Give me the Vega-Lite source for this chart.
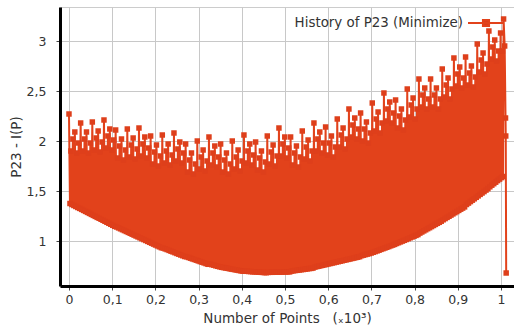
{
"$schema": "https://vega.github.io/schema/vega-lite/v6.json",
"width": 454, "height": 279,
"autosize": {"type": "none"},
"padding": {"left": 60, "top": 7, "right": 0, "bottom": 42},
"background": "white",
"config": {
 "font": "DejaVu Sans",
 "view": {"stroke": "#cccccc"},
 "axis": {"domainColor": "#000000", "domainWidth": 3, "gridColor": "#c8c8c8", "gridWidth": 1, "tickColor": "#444444", "tickSize": 4, "labelFontSize": 12.5, "labelColor": "#333333", "titleFontSize": 13.5, "titleColor": "#333333", "titleFontWeight": "normal", "labelFont": "DejaVu Sans", "titleFont": "DejaVu Sans"}
},
"data": {"values": [
{"x":0,"y":2.27},{"x":0.00225,"y":1.375},{"x":0.0045,"y":1.90},{"x":0.00675,"y":1.365},{"x":0.009,"y":2.02},{"x":0.01125,"y":1.355},{"x":0.0135,"y":2.09},{"x":0.01575,"y":1.345},{"x":0.018,"y":1.88},{"x":0.02025,"y":1.335},{"x":0.0225,"y":1.98},{"x":0.02475,"y":1.326},
{"x":0.027,"y":2.18},{"x":0.02925,"y":1.316},{"x":0.0315,"y":1.90},{"x":0.03375,"y":1.306},{"x":0.036,"y":2.02},{"x":0.03825,"y":1.296},{"x":0.0405,"y":2.09},{"x":0.04275,"y":1.286},{"x":0.045,"y":1.88},{"x":0.04725,"y":1.276},{"x":0.0495,"y":1.98},{"x":0.05175,"y":1.266},
{"x":0.054,"y":2.19},{"x":0.05625,"y":1.256},{"x":0.0585,"y":1.91},{"x":0.06075,"y":1.246},{"x":0.063,"y":2.03},{"x":0.06525,"y":1.236},{"x":0.0675,"y":2.10},{"x":0.06975,"y":1.227},{"x":0.072,"y":1.89},{"x":0.07425,"y":1.217},{"x":0.0765,"y":1.99},{"x":0.07875,"y":1.207},
{"x":0.081,"y":2.21},{"x":0.08325,"y":1.197},{"x":0.0855,"y":1.93},{"x":0.08775,"y":1.187},{"x":0.09,"y":2.05},{"x":0.09225,"y":1.177},{"x":0.0945,"y":2.12},{"x":0.09675,"y":1.167},{"x":0.099,"y":1.91},{"x":0.10125,"y":1.157},{"x":0.1035,"y":2.01},{"x":0.10575,"y":1.147},
{"x":0.108,"y":2.11},{"x":0.11025,"y":1.140},{"x":0.1125,"y":1.83},{"x":0.11475,"y":1.131},{"x":0.117,"y":1.95},{"x":0.11925,"y":1.122},{"x":0.1215,"y":2.02},{"x":0.12375,"y":1.113},{"x":0.126,"y":1.81},{"x":0.12825,"y":1.104},{"x":0.1305,"y":1.91},{"x":0.13275,"y":1.095},
{"x":0.135,"y":2.12},{"x":0.13725,"y":1.086},{"x":0.1395,"y":1.84},{"x":0.14175,"y":1.077},{"x":0.144,"y":1.96},{"x":0.14625,"y":1.068},{"x":0.1485,"y":2.03},{"x":0.15075,"y":1.059},{"x":0.153,"y":1.82},{"x":0.15525,"y":1.050},{"x":0.1575,"y":1.92},{"x":0.15975,"y":1.041},
{"x":0.162,"y":2.13},{"x":0.16425,"y":1.032},{"x":0.1665,"y":1.85},{"x":0.16875,"y":1.023},{"x":0.171,"y":1.97},{"x":0.17325,"y":1.014},{"x":0.1755,"y":2.04},{"x":0.17775,"y":1.005},{"x":0.18,"y":1.83},{"x":0.18225,"y":0.996},{"x":0.1845,"y":1.93},{"x":0.18675,"y":0.987},
{"x":0.189,"y":2.05},{"x":0.19125,"y":0.978},{"x":0.1935,"y":1.77},{"x":0.19575,"y":0.969},{"x":0.198,"y":1.89},{"x":0.20025,"y":0.960},{"x":0.2025,"y":1.96},{"x":0.20475,"y":0.951},{"x":0.207,"y":1.75},{"x":0.20925,"y":0.942},{"x":0.2115,"y":1.85},{"x":0.21375,"y":0.933},
{"x":0.216,"y":2.06},{"x":0.21825,"y":0.929},{"x":0.2205,"y":1.78},{"x":0.22275,"y":0.921},{"x":0.225,"y":1.90},{"x":0.22725,"y":0.914},{"x":0.2295,"y":1.97},{"x":0.23175,"y":0.906},{"x":0.234,"y":1.76},{"x":0.23625,"y":0.898},{"x":0.2385,"y":1.86},{"x":0.24075,"y":0.891},
{"x":0.243,"y":2.08},{"x":0.24525,"y":0.883},{"x":0.2475,"y":1.80},{"x":0.24975,"y":0.875},{"x":0.252,"y":1.92},{"x":0.25425,"y":0.868},{"x":0.2565,"y":1.99},{"x":0.25875,"y":0.860},{"x":0.261,"y":1.78},{"x":0.26325,"y":0.853},{"x":0.2655,"y":1.88},{"x":0.26775,"y":0.845},
{"x":0.27,"y":1.97},{"x":0.27225,"y":0.842},{"x":0.2745,"y":1.69},{"x":0.27675,"y":0.835},{"x":0.279,"y":1.81},{"x":0.28125,"y":0.828},{"x":0.2835,"y":1.88},{"x":0.28575,"y":0.821},{"x":0.288,"y":1.67},{"x":0.29025,"y":0.815},{"x":0.2925,"y":1.77},{"x":0.29475,"y":0.808},
{"x":0.297,"y":2.00},{"x":0.29925,"y":0.801},{"x":0.3015,"y":1.72},{"x":0.30375,"y":0.794},{"x":0.306,"y":1.84},{"x":0.30825,"y":0.788},{"x":0.3105,"y":1.91},{"x":0.31275,"y":0.781},{"x":0.315,"y":1.70},{"x":0.31725,"y":0.774},{"x":0.3195,"y":1.80},{"x":0.32175,"y":0.767},
{"x":0.324,"y":2.04},{"x":0.32625,"y":0.769},{"x":0.3285,"y":1.76},{"x":0.33075,"y":0.763},{"x":0.333,"y":1.88},{"x":0.33525,"y":0.758},{"x":0.3375,"y":1.95},{"x":0.33975,"y":0.752},{"x":0.342,"y":1.74},{"x":0.34425,"y":0.747},{"x":0.3465,"y":1.84},{"x":0.34875,"y":0.742},
{"x":0.351,"y":1.97},{"x":0.35325,"y":0.737},{"x":0.3555,"y":1.69},{"x":0.35775,"y":0.734},{"x":0.36,"y":1.81},{"x":0.36225,"y":0.730},{"x":0.3645,"y":1.88},{"x":0.36675,"y":0.727},{"x":0.369,"y":1.67},{"x":0.37125,"y":0.723},{"x":0.3735,"y":1.77},{"x":0.37575,"y":0.719},
{"x":0.378,"y":2.00},{"x":0.38025,"y":0.716},{"x":0.3825,"y":1.72},{"x":0.38475,"y":0.712},{"x":0.387,"y":1.84},{"x":0.38925,"y":0.709},{"x":0.3915,"y":1.91},{"x":0.39375,"y":0.705},{"x":0.396,"y":1.70},{"x":0.39825,"y":0.701},{"x":0.4005,"y":1.80},{"x":0.40275,"y":0.698},
{"x":0.405,"y":2.06},{"x":0.40725,"y":0.698},{"x":0.4095,"y":1.78},{"x":0.41175,"y":0.697},{"x":0.414,"y":1.90},{"x":0.41625,"y":0.695},{"x":0.4185,"y":1.97},{"x":0.42075,"y":0.694},{"x":0.423,"y":1.76},{"x":0.42525,"y":0.692},{"x":0.4275,"y":1.86},{"x":0.42975,"y":0.691},
{"x":0.432,"y":1.99},{"x":0.43425,"y":0.690},{"x":0.4365,"y":1.71},{"x":0.43875,"y":0.688},{"x":0.441,"y":1.83},{"x":0.44325,"y":0.687},{"x":0.4455,"y":1.90},{"x":0.44775,"y":0.686},{"x":0.45,"y":1.69},{"x":0.45225,"y":0.684},{"x":0.4545,"y":1.79},{"x":0.45675,"y":0.683},
{"x":0.459,"y":2.05},{"x":0.46125,"y":0.686},{"x":0.4635,"y":1.77},{"x":0.46575,"y":0.687},{"x":0.468,"y":1.89},{"x":0.47025,"y":0.687},{"x":0.4725,"y":1.96},{"x":0.47475,"y":0.688},{"x":0.477,"y":1.75},{"x":0.47925,"y":0.688},{"x":0.4815,"y":1.85},{"x":0.48375,"y":0.688},
{"x":0.486,"y":2.13},{"x":0.48825,"y":0.689},{"x":0.4905,"y":1.85},{"x":0.49275,"y":0.689},{"x":0.495,"y":1.97},{"x":0.49725,"y":0.690},{"x":0.4995,"y":2.04},{"x":0.50175,"y":0.690},{"x":0.504,"y":1.83},{"x":0.50625,"y":0.691},{"x":0.5085,"y":1.93},{"x":0.51075,"y":0.691},
{"x":0.513,"y":2.04},{"x":0.51525,"y":0.699},{"x":0.5175,"y":1.76},{"x":0.51975,"y":0.702},{"x":0.522,"y":1.88},{"x":0.52425,"y":0.705},{"x":0.5265,"y":1.95},{"x":0.52875,"y":0.707},{"x":0.531,"y":1.74},{"x":0.53325,"y":0.710},{"x":0.5355,"y":1.84},{"x":0.53775,"y":0.713},
{"x":0.54,"y":2.10},{"x":0.54225,"y":0.715},{"x":0.5445,"y":1.82},{"x":0.54675,"y":0.718},{"x":0.549,"y":1.94},{"x":0.55125,"y":0.721},{"x":0.5535,"y":2.01},{"x":0.55575,"y":0.724},{"x":0.558,"y":1.80},{"x":0.56025,"y":0.726},{"x":0.5625,"y":1.90},{"x":0.56475,"y":0.729},
{"x":0.567,"y":2.18},{"x":0.56925,"y":0.739},{"x":0.5715,"y":1.90},{"x":0.57375,"y":0.744},{"x":0.576,"y":2.02},{"x":0.57825,"y":0.748},{"x":0.5805,"y":2.09},{"x":0.58275,"y":0.753},{"x":0.585,"y":1.88},{"x":0.58725,"y":0.757},{"x":0.5895,"y":1.98},{"x":0.59175,"y":0.762},
{"x":0.594,"y":2.14},{"x":0.59625,"y":0.766},{"x":0.5985,"y":1.86},{"x":0.60075,"y":0.771},{"x":0.603,"y":1.98},{"x":0.60525,"y":0.775},{"x":0.6075,"y":2.05},{"x":0.60975,"y":0.780},{"x":0.612,"y":1.84},{"x":0.61425,"y":0.784},{"x":0.6165,"y":1.94},{"x":0.61875,"y":0.789},
{"x":0.621,"y":2.22},{"x":0.62325,"y":0.793},{"x":0.6255,"y":1.94},{"x":0.62775,"y":0.798},{"x":0.63,"y":2.06},{"x":0.63225,"y":0.802},{"x":0.6345,"y":2.13},{"x":0.63675,"y":0.807},{"x":0.639,"y":1.92},{"x":0.64125,"y":0.811},{"x":0.6435,"y":2.02},{"x":0.64575,"y":0.816},
{"x":0.648,"y":2.32},{"x":0.65025,"y":0.820},{"x":0.6525,"y":2.04},{"x":0.65475,"y":0.825},{"x":0.657,"y":2.16},{"x":0.65925,"y":0.829},{"x":0.6615,"y":2.23},{"x":0.66375,"y":0.834},{"x":0.666,"y":2.02},{"x":0.66825,"y":0.838},{"x":0.6705,"y":2.12},{"x":0.67275,"y":0.843},
{"x":0.675,"y":2.28},{"x":0.67725,"y":0.853},{"x":0.6795,"y":2.00},{"x":0.68175,"y":0.858},{"x":0.684,"y":2.12},{"x":0.68625,"y":0.864},{"x":0.6885,"y":2.19},{"x":0.69075,"y":0.869},{"x":0.693,"y":1.98},{"x":0.69525,"y":0.874},{"x":0.6975,"y":2.08},{"x":0.69975,"y":0.880},
{"x":0.702,"y":2.38},{"x":0.70425,"y":0.887},{"x":0.7065,"y":2.10},{"x":0.70875,"y":0.894},{"x":0.711,"y":2.22},{"x":0.71325,"y":0.901},{"x":0.7155,"y":2.29},{"x":0.71775,"y":0.908},{"x":0.72,"y":2.08},{"x":0.72225,"y":0.916},{"x":0.7245,"y":2.18},{"x":0.72675,"y":0.923},
{"x":0.729,"y":2.48},{"x":0.73125,"y":0.930},{"x":0.7335,"y":2.20},{"x":0.73575,"y":0.937},{"x":0.738,"y":2.32},{"x":0.74025,"y":0.944},{"x":0.7425,"y":2.39},{"x":0.74475,"y":0.952},{"x":0.747,"y":2.18},{"x":0.74925,"y":0.959},{"x":0.7515,"y":2.28},{"x":0.75375,"y":0.966},
{"x":0.756,"y":2.41},{"x":0.75825,"y":0.975},{"x":0.7605,"y":2.13},{"x":0.76275,"y":0.983},{"x":0.765,"y":2.25},{"x":0.76725,"y":0.991},{"x":0.7695,"y":2.32},{"x":0.77175,"y":0.999},{"x":0.774,"y":2.11},{"x":0.77625,"y":1.007},{"x":0.7785,"y":2.21},{"x":0.78075,"y":1.015},
{"x":0.783,"y":2.52},{"x":0.78525,"y":1.023},{"x":0.7875,"y":2.24},{"x":0.78975,"y":1.032},{"x":0.792,"y":2.36},{"x":0.79425,"y":1.040},{"x":0.7965,"y":2.43},{"x":0.79875,"y":1.048},{"x":0.801,"y":2.22},{"x":0.80325,"y":1.056},{"x":0.8055,"y":2.32},{"x":0.80775,"y":1.064},
{"x":0.81,"y":2.62},{"x":0.81225,"y":1.079},{"x":0.8145,"y":2.34},{"x":0.81675,"y":1.090},{"x":0.819,"y":2.46},{"x":0.82125,"y":1.101},{"x":0.8235,"y":2.53},{"x":0.82575,"y":1.112},{"x":0.828,"y":2.32},{"x":0.83025,"y":1.123},{"x":0.8325,"y":2.42},{"x":0.83475,"y":1.133},
{"x":0.837,"y":2.62},{"x":0.83925,"y":1.144},{"x":0.8415,"y":2.34},{"x":0.84375,"y":1.155},{"x":0.846,"y":2.46},{"x":0.84825,"y":1.166},{"x":0.8505,"y":2.53},{"x":0.85275,"y":1.177},{"x":0.855,"y":2.32},{"x":0.85725,"y":1.187},{"x":0.8595,"y":2.42},{"x":0.86175,"y":1.198},
{"x":0.864,"y":2.72},{"x":0.86625,"y":1.212},{"x":0.8685,"y":2.44},{"x":0.87075,"y":1.224},{"x":0.873,"y":2.56},{"x":0.87525,"y":1.236},{"x":0.8775,"y":2.63},{"x":0.87975,"y":1.247},{"x":0.882,"y":2.42},{"x":0.88425,"y":1.259},{"x":0.8865,"y":2.52},{"x":0.88875,"y":1.271},
{"x":0.891,"y":2.83},{"x":0.89325,"y":1.283},{"x":0.8955,"y":2.55},{"x":0.89775,"y":1.294},{"x":0.9,"y":2.67},{"x":0.90225,"y":1.306},{"x":0.9045,"y":2.74},{"x":0.90675,"y":1.318},{"x":0.909,"y":2.53},{"x":0.91125,"y":1.329},{"x":0.9135,"y":2.63},{"x":0.91575,"y":1.341},
{"x":0.918,"y":2.84},{"x":0.92025,"y":1.365},{"x":0.9225,"y":2.56},{"x":0.92475,"y":1.379},{"x":0.927,"y":2.68},{"x":0.92925,"y":1.394},{"x":0.9315,"y":2.75},{"x":0.93375,"y":1.408},{"x":0.936,"y":2.54},{"x":0.93825,"y":1.422},{"x":0.9405,"y":2.64},{"x":0.94275,"y":1.437},
{"x":0.945,"y":2.97},{"x":0.94725,"y":1.451},{"x":0.9495,"y":2.69},{"x":0.95175,"y":1.466},{"x":0.954,"y":2.81},{"x":0.95625,"y":1.480},{"x":0.9585,"y":2.88},{"x":0.96075,"y":1.494},{"x":0.963,"y":2.67},{"x":0.96525,"y":1.509},{"x":0.9675,"y":2.77},{"x":0.96975,"y":1.523},
{"x":0.972,"y":3.10},{"x":0.97425,"y":1.542},{"x":0.9765,"y":2.82},{"x":0.97875,"y":1.558},{"x":0.981,"y":2.94},{"x":0.98325,"y":1.573},{"x":0.9855,"y":3.01},{"x":0.98775,"y":1.588},{"x":0.99,"y":2.80},{"x":0.99225,"y":1.604},{"x":0.9945,"y":2.90},{"x":0.99675,"y":1.619},
{"x":0.999,"y":3.08},{"x":1.00125,"y":1.634},{"x":1.0035,"y":2.90},{"x":1.00475,"y":1.645},{"x":1.006,"y":3.22},{"x":1.0085,"y":2.95},{"x":1.0105,"y":2.23},{"x":1.011,"y":2.05},{"x":1.012,"y":0.68}
]},
"encoding": {
 "x": {"field": "x", "type": "quantitative", "scale": {"domain": [-0.0208, 1.0301], "nice": false, "zero": false},
  "axis": {"values": [0, 0.1, 0.2, 0.3, 0.4, 0.5, 0.6, 0.7, 0.8, 0.9, 1], "format": "~g", "labelExpr": "replace(datum.label, '.', ',')", "title": "Number of Points\u00a0\u00a0\u00a0(ₓ10³)", "labelPadding": 3, "titlePadding": 6, "labelFlush": false}},
 "y": {"field": "y", "type": "quantitative", "scale": {"domain": [0.55, 3.34], "nice": false, "zero": false},
  "axis": {"values": [1, 1.5, 2, 2.5, 3], "format": "~g", "labelExpr": "replace(datum.label, '.', ',')", "title": "P23 - I(P)", "labelPadding": 10, "titlePadding": 3}}
},
"layer": [
 {"mark": {"type": "line", "strokeWidth": 2, "clip": true},
  "encoding": {"color": {"datum": "History of P23 (Minimize)", "type": "nominal", "scale": {"range": ["#e2421b"]},
   "legend": {"title": null, "orient": "none", "legendX": 407, "legendY": -3, "padding": 0, "symbolType": "M-1,0H1M-0.17,-0.17H0.17V0.17H-0.17Z", "symbolSize": 1296, "symbolStrokeWidth": 2, "labelAlign": "right", "labelOffset": -42, "labelLimit": 400, "labelFontSize": 13.4, "labelColor": "#333333", "labelFont": "DejaVu Sans",
    "encode": {"symbols": {"update": {"fill": {"value": "#dc3c1b"}, "stroke": {"value": "#e2421b"}, "opacity": {"value": 1}}}}}}}},
 {"mark": {"type": "point", "shape": "square", "filled": true, "size": 30, "opacity": 1, "color": "#de3f1b", "clip": true}}
]
}
